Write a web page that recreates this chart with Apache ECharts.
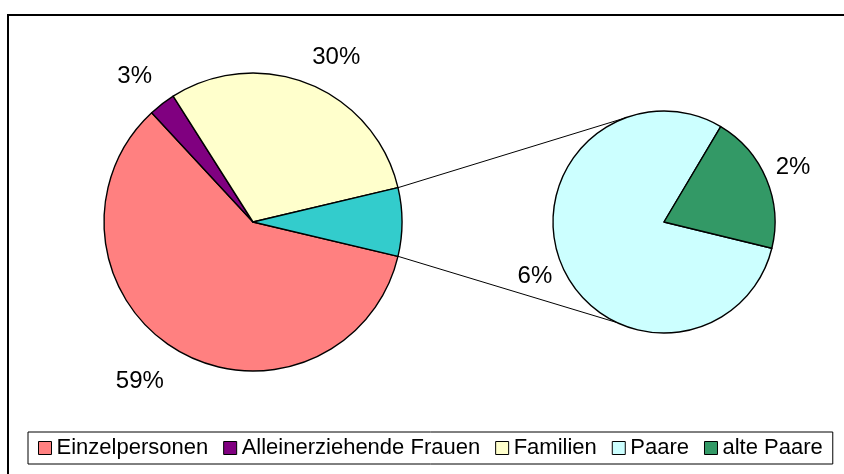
<!DOCTYPE html>
<html>
<head>
<meta charset="utf-8">
<script src="https://cdn.jsdelivr.net/npm/echarts@6/dist/echarts.min.js"></script>
<style>
  html, body { margin: 0; padding: 0; background: #fff; }
  #chart { width: 844px; height: 474px; }
</style>
</head>
<body>
<div id="chart"></div>
<script>
// Haushaltstypen (Kreis aus Kreis)
const mainNames = ['Einzelpersonen', 'Alleinerziehende Frauen', 'Familien']
const mainValues = [59.4, 2.9, 30.3]
const subNames = ['Paare', 'alte Paare']
const subValues = [5.9, 1.5]

const mainColors = ['#FF8080', '#800080', '#FFFFCC']
const otherColor = '#33CCCC'
const subColors = ['#CCFFFF', '#339966']

const sum = (arr) => arr.reduce((a, b) => a + b, 0)
const otherValue = sum(subValues)
const total = sum(mainValues) + otherValue
const half = otherValue / total * 180 // halber Winkel des "Sonstige"-Segments

// Geometrie der beiden Kreise
const mainCenter = [253, 222]
const mainR = 149
const subCenter = [664, 222]
const subR = 111
const subStart = 346.3

const font = "'Liberation Sans', Arial, sans-serif"
const rad = (d) => d * Math.PI / 180
const pct = (v) => Math.round(v / total * 100) + '%'

const chart = echarts.init(document.getElementById('chart'))

// Verbindungslinien zwischen Hauptkreis und Nebenkreis
const p1 = [mainCenter[0] + mainR * Math.cos(rad(half)), mainCenter[1] - mainR * Math.sin(rad(half))]
const p2 = [mainCenter[0] + mainR * Math.cos(rad(half)), mainCenter[1] + mainR * Math.sin(rad(half))]
const q1 = [subCenter[0] + subR * Math.cos(rad(110)), subCenter[1] - subR * Math.sin(rad(110))]
const q2 = [subCenter[0] + subR * Math.cos(rad(245)), subCenter[1] - subR * Math.sin(rad(245))]

const labelStyle = {
  show: true,
  position: 'inside',
  fontSize: 24,
  fontFamily: font,
  color: '#000',
  formatter: (p) => pct(p.value)
}

// Excel-artige Korrektur der Beschriftungspositionen
const mainLabelShift = [[-18, -4], [-3, 4], [12, 10]]

const option = {
  animation: false,
  textStyle: { fontFamily: font },
  graphic: [
    {
      type: 'rect',
      shape: { x: 8, y: 15, width: 1000, height: 1000 },
      style: { fill: 'none', stroke: '#000', lineWidth: 2 },
      z: 0
    },
    {
      type: 'line',
      shape: { x1: p1[0], y1: p1[1], x2: q1[0], y2: q1[1] },
      style: { stroke: '#000', lineWidth: 1 },
      z: 0
    },
    {
      type: 'line',
      shape: { x1: p2[0], y1: p2[1], x2: q2[0], y2: q2[1] },
      style: { stroke: '#000', lineWidth: 1 },
      z: 0
    }
  ],
  legend: {
    data: mainNames.concat(subNames),
    left: 28,
    top: 432,
    padding: [5, 10],
    itemGap: 15,
    itemWidth: 13,
    itemHeight: 13,
    icon: 'rect',
    borderColor: '#000',
    borderWidth: 1,
    selectedMode: false,
    itemStyle: { borderColor: '#000', borderWidth: 1 },
    textStyle: { fontSize: 22, fontFamily: font, color: '#000' }
  },
  series: [
    {
      name: 'Hauptkreis',
      type: 'pie',
      center: mainCenter,
      radius: mainR,
      startAngle: 360 - half,
      clockwise: true,
      avoidLabelOverlap: false,
      silent: true,
      label: { show: false },
      labelLine: { show: false },
      itemStyle: { borderColor: '#000', borderWidth: 1.4 },
      data: mainNames.map((n, i) => ({ name: n, value: mainValues[i], itemStyle: { color: mainColors[i] } }))
        .concat([{ name: 'Sonstige', value: otherValue, itemStyle: { color: otherColor } }])
    },
    {
      name: 'Nebenkreis',
      type: 'pie',
      center: subCenter,
      radius: subR,
      startAngle: subStart,
      clockwise: true,
      avoidLabelOverlap: false,
      silent: true,
      label: { show: false },
      labelLine: { show: false },
      itemStyle: { borderColor: '#000', borderWidth: 1.4 },
      data: subNames.map((n, i) => ({ name: n, value: subValues[i], itemStyle: { color: subColors[i] } }))
    },
    // unsichtbare Ringe nur fuer die Prozentbeschriftungen
    {
      name: 'BeschriftungHaupt',
      type: 'pie',
      center: mainCenter,
      radius: [mainR + 19, mainR + 55],
      startAngle: 360 - half,
      silent: true,
      avoidLabelOverlap: false,
      itemStyle: { color: 'transparent', borderWidth: 0 },
      label: labelStyle,
      labelLine: { show: false },
      labelLayout: (p) => {
        const s = mainLabelShift[p.dataIndex]
        return s ? { dx: s[0], dy: s[1] } : {}
      },
      data: mainValues.map((v) => ({ value: v }))
        .concat([{ value: otherValue, label: { show: false } }])
    },
    {
      name: 'BeschriftungNeben',
      type: 'pie',
      center: subCenter,
      radius: [subR + 12, subR + 40],
      startAngle: subStart,
      silent: true,
      avoidLabelOverlap: false,
      itemStyle: { color: 'transparent', borderWidth: 0 },
      label: labelStyle,
      labelLine: { show: false },
      data: subValues.map((v) => ({ value: v }))
    }
  ]
}

chart.setOption(option)
</script>
</body>
</html>
